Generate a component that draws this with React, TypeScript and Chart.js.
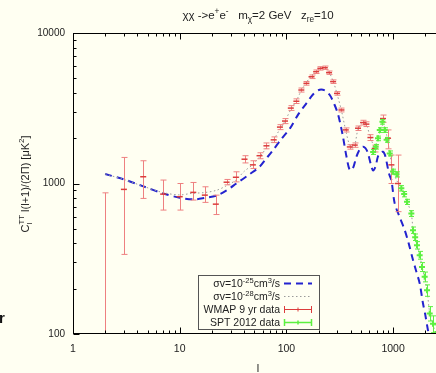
import React, { useEffect, useRef } from 'react';
import { Chart, registerables } from 'chart.js';

Chart.register(...registerables);

const FONT = '"Liberation Sans", Arial, Helvetica, sans-serif';
const BG = '#fffff2';
const BLUE = '#2323cf';
const GRAY = '#9a9a9a';
const RED = '#dc3c3c';
const RED_BAR = '#ee8080';
const GREEN = '#5cf040';

const xTickValues = [1, 10, 100, 1000];
const yTickValues = [100, 1000, 10000];

// sigma v = 1e-25 cm^3/s model (blue dashed)
const blueL = [2, 3, 4.5, 7, 10, 13.5, 17, 22, 27.5, 34, 45, 56, 65, 75, 90, 108, 130, 154, 180, 205, 230, 255, 282, 303, 320, 339, 366, 393, 420, 453, 485, 519, 550, 580, 626, 650, 685, 720, 760, 804, 835, 862, 920, 964, 1035, 1150, 1285, 1400, 1537, 1650, 1775, 1905, 2000, 2122, 2300, 2500];
const blueV = [1156, 1064, 961, 859, 804, 784, 800, 830, 900, 1000, 1150, 1291, 1470, 1668, 1980, 2325, 2900, 3410, 3950, 4200, 4150, 3870, 3350, 2924, 2500, 2046, 1506, 1227, 1260, 1506, 1680, 1754, 1720, 1600, 1295, 1220, 1300, 1506, 1600, 1625, 1560, 1432, 1150, 1054, 738, 600, 490, 400, 310, 260, 217, 160, 135, 106, 80, 60];

// sigma v = 1e-28 cm^3/s model (gray dotted)
const grayL = [2, 3, 4.5, 7, 10, 13, 17, 22, 27, 34, 40, 48, 56, 65, 76, 87, 97, 110, 124, 138, 154, 172, 190, 210, 228, 250, 274, 298, 328, 360, 393, 420, 440, 470, 520, 560, 610, 670, 720, 780, 820, 870, 930, 1000, 1080, 1200, 1350, 1480, 1540, 1680, 1780, 1870, 1980, 2080, 2200, 2370, 2500];
const grayV = [1156, 1064, 961, 870, 840, 860, 870, 900, 960, 1060, 1200, 1330, 1500, 1720, 1960, 2300, 2600, 3100, 3550, 4150, 4700, 5200, 5600, 5850, 5880, 5500, 4800, 3950, 3050, 2250, 1780, 1720, 1830, 2300, 2550, 2470, 2050, 1760, 1950, 2400, 2450, 2100, 1600, 1200, 1050, 920, 760, 630, 500, 390, 330, 280, 235, 195, 140, 115, 100];

// WMAP 9 yr binned data
const wmapL = [2, 3, 4.55, 7, 10, 13.4, 17.2, 21.8, 27.5, 33.6, 40.5, 48.5, 56, 65, 76, 87, 97, 110, 124, 138, 154, 172, 190, 208, 229, 251, 274, 298, 328, 360, 393, 437, 469, 523, 562, 613, 673, 804, 897, 964, 1112];
const wmapV = [150, 914, 1109, 850, 817, 873, 837, 729, 1020, 1100, 1450, 1330, 1530, 1780, 1950, 2370, 2600, 3170, 3520, 4180, 4630, 5120, 5530, 5820, 5880, 5450, 4750, 3970, 3080, 2270, 1750, 1800, 2330, 2540, 2480, 2020, 1710, 2700, 2000, 1330, 1000];
const wmapLo = [20, 338, 796, 666, 666, 776, 749, 622, 980, 1025, 1370, 1259, 1460, 1700, 1870, 2280, 2500, 3060, 3400, 4050, 4500, 4980, 5380, 5670, 5730, 5310, 4620, 3860, 2990, 2200, 1690, 1740, 2250, 2450, 2390, 1930, 1620, 2550, 1700, 1000, 650];
const wmapHi = [867, 1490, 1416, 1054, 1000, 1016, 951, 837, 1064, 1196, 1530, 1416, 1600, 1860, 2040, 2460, 2700, 3290, 3650, 4310, 4760, 5260, 5680, 5970, 6030, 5590, 4880, 4080, 3170, 2340, 1810, 1860, 2410, 2630, 2570, 2110, 1800, 2850, 2270, 1545, 1545];

// SPT 2012 data
const sptL = [650, 687, 722, 750, 795, 835, 870, 930, 998, 1077, 1195, 1270, 1350, 1483, 1537, 1610, 1675, 1775, 1866, 1977, 2080, 2203, 2366, 2500];
const sptV = [1620, 1754, 1995, 2265, 2570, 2265, 1950, 1585, 1200, 1150, 930, 850, 755, 632, 490, 440, 389, 334, 279, 240, 195, 137, 117, 100];
const sptErr = [60, 60, 70, 80, 90, 80, 70, 60, 45, 45, 38, 35, 30, 28, 24, 22, 22, 20, 19, 18, 17, 15, 15, 15];

type Seg = { t: string; s?: 'sup' | 'sub' | 'subsup'; t2?: string };

function drawRich(ctx: CanvasRenderingContext2D, segs: Seg[], x: number, y: number, size: number, align: 'left' | 'center' | 'right') {
  const small = size * 0.72;
  const widths = segs.map((seg) => {
    if (!seg.s) {
      ctx.font = `${size}px ${FONT}`;
      return ctx.measureText(seg.t).width;
    }
    ctx.font = `${small}px ${FONT}`;
    if (seg.s === 'subsup') return Math.max(ctx.measureText(seg.t).width, ctx.measureText(seg.t2 || '').width);
    return ctx.measureText(seg.t).width;
  });
  const total = widths.reduce((a, b) => a + b, 0);
  let cx = align === 'center' ? x - total / 2 : align === 'right' ? x - total : x;
  ctx.textAlign = 'left';
  ctx.textBaseline = 'alphabetic';
  segs.forEach((seg, i) => {
    if (!seg.s) {
      ctx.font = `${size}px ${FONT}`;
      ctx.fillText(seg.t, cx, y);
    } else {
      ctx.font = `${small}px ${FONT}`;
      if (seg.s === 'sup') ctx.fillText(seg.t, cx, y - size * 0.42);
      else if (seg.s === 'sub') ctx.fillText(seg.t, cx, y + size * 0.28);
      else {
        ctx.fillText(seg.t, cx, y + size * 0.28);
        ctx.fillText(seg.t2 || '', cx, y - size * 0.42);
      }
    }
    cx += widths[i];
  });
}

const errorBarPlugin = {
  id: 'errorBars',
  beforeDatasetDraw(chart: any, args: any) {
    const ds = chart.data.datasets[args.index];
    if (!ds.errLo) return;
    const { ctx, chartArea, scales } = chart;
    ctx.save();
    ctx.beginPath();
    ctx.rect(chartArea.left, chartArea.top, chartArea.right - chartArea.left, chartArea.bottom - chartArea.top);
    ctx.clip();
    ctx.strokeStyle = ds.errColor;
    ctx.lineWidth = 1;
    ds.data.forEach((p: any, i: number) => {
      const x = Math.round(scales.x.getPixelForValue(p.x)) + 0.5;
      const y1 = scales.y.getPixelForValue(ds.errLo[i]);
      const y2 = scales.y.getPixelForValue(ds.errHi[i]);
      const c = ds.capW;
      ctx.beginPath();
      ctx.moveTo(x, y1);
      ctx.lineTo(x, y2);
      ctx.moveTo(x - c, y1);
      ctx.lineTo(x + c, y1);
      ctx.moveTo(x - c, y2);
      ctx.lineTo(x + c, y2);
      ctx.stroke();
    });
    ctx.restore();
  },
};

function minorValues(min: number, max: number) {
  const out: { v: number; major: boolean }[] = [];
  for (let d = Math.pow(10, Math.floor(Math.log10(min))); d <= max; d *= 10) {
    for (let k = 1; k <= 9; k++) {
      const v = k * d;
      if (v >= min && v <= max) out.push({ v, major: k === 1 });
    }
  }
  return out;
}

const framePlugin = {
  id: 'frame',
  afterDatasetsDraw(chart: any) {
    const { ctx, chartArea: a, scales } = chart;
    ctx.save();
    ctx.strokeStyle = '#000';
    ctx.lineWidth = 1;
    const L = Math.round(a.left) + 0.5;
    const R = Math.round(a.right) - 0.5;
    const T = Math.round(a.top) + 0.5;
    const B = Math.round(a.bottom) - 0.5;
    ctx.strokeRect(L, T, R - L, B - T);
    ctx.beginPath();
    minorValues(scales.x.min, scales.x.max).forEach(({ v, major }) => {
      const x = Math.round(scales.x.getPixelForValue(v)) + 0.5;
      const len = major ? 6 : 3;
      ctx.moveTo(x, B);
      ctx.lineTo(x, B - len);
      ctx.moveTo(x, T);
      ctx.lineTo(x, T + len);
    });
    minorValues(scales.y.min, scales.y.max).forEach(({ v, major }) => {
      const y = Math.round(scales.y.getPixelForValue(v)) + 0.5;
      const len = major ? 6 : 3;
      ctx.moveTo(L, y);
      ctx.lineTo(L + len, y);
      ctx.moveTo(R, y);
      ctx.lineTo(R - len, y);
    });
    ctx.stroke();
    ctx.restore();
  },
};

const textPlugin = {
  id: 'texts',
  afterDraw(chart: any) {
    const { ctx } = chart;
    ctx.save();
    ctx.fillStyle = '#222';
    // title
    drawRich(ctx, [
      { t: 'χχ ->e' }, { t: '+', s: 'sup' }, { t: 'e' }, { t: '-', s: 'sup' },
      { t: '   m' }, { t: 'χ', s: 'sub' }, { t: '=2 GeV   z' }, { t: 're', s: 'sub' }, { t: '=10' },
    ], 258, 19, 11.5, 'center');
    // x-axis title
    ctx.font = `11px ${FONT}`;
    ctx.textAlign = 'center';
    ctx.textBaseline = 'alphabetic';
    ctx.fillText('l', 258, 372);
    // y-axis title
    ctx.save();
    ctx.translate(29, 184);
    ctx.rotate(-Math.PI / 2);
    drawRich(ctx, [
      { t: 'C' }, { t: 'l', s: 'subsup', t2: 'TT' }, { t: ' l(l+1)/(2Π) [μK' }, { t: '2', s: 'sup' }, { t: ']' },
    ], 0, 0, 11, 'center');
    ctx.restore();
    // stray letter at left edge
    ctx.fillStyle = '#111';
    ctx.font = `bold 15px ${FONT}`;
    ctx.textAlign = 'left';
    ctx.fillText('r', -1, 323);

    // legend
    const bx = 198.5, by = 275.5, bw = 121, bh = 54;
    ctx.fillStyle = BG;
    ctx.fillRect(bx, by, bw, bh);
    ctx.strokeStyle = '#555';
    ctx.lineWidth = 1;
    ctx.strokeRect(bx, by, bw, bh);
    ctx.fillStyle = '#222';
    const tx = 280;
    const rows = [283, 296, 309, 322];
    drawRich(ctx, [{ t: 'σv=10' }, { t: '-25', s: 'sup' }, { t: 'cm' }, { t: '3', s: 'sup' }, { t: '/s' }], tx, rows[0] + 4, 10.5, 'right');
    drawRich(ctx, [{ t: 'σv=10' }, { t: '-28', s: 'sup' }, { t: 'cm' }, { t: '3', s: 'sup' }, { t: '/s' }], tx, rows[1] + 4, 10.5, 'right');
    drawRich(ctx, [{ t: 'WMAP 9 yr data' }], tx, rows[2] + 4, 10.5, 'right');
    drawRich(ctx, [{ t: 'SPT 2012 data' }], tx, rows[3] + 4, 10.5, 'right');
    const sx0 = 284, sx1 = 312;
    ctx.lineWidth = 2;
    ctx.strokeStyle = BLUE;
    ctx.setLineDash([7, 5]);
    ctx.beginPath();
    ctx.moveTo(sx0, rows[0] + 0.5);
    ctx.lineTo(sx1, rows[0] + 0.5);
    ctx.stroke();
    ctx.lineWidth = 1;
    ctx.strokeStyle = GRAY;
    ctx.setLineDash([1.5, 2.5]);
    ctx.beginPath();
    ctx.moveTo(sx0, rows[1] + 0.5);
    ctx.lineTo(sx1, rows[1] + 0.5);
    ctx.stroke();
    ctx.setLineDash([]);
    const errSample = (y: number, col: string, w: number) => {
      ctx.strokeStyle = col;
      ctx.lineWidth = w;
      ctx.beginPath();
      ctx.moveTo(sx0, y + 0.5);
      ctx.lineTo(sx1, y + 0.5);
      ctx.moveTo(sx0 + 0.5, y - 3);
      ctx.lineTo(sx0 + 0.5, y + 4);
      ctx.moveTo(sx1 - 0.5, y - 3);
      ctx.lineTo(sx1 - 0.5, y + 4);
      ctx.moveTo((sx0 + sx1) / 2, y - 1.5);
      ctx.lineTo((sx0 + sx1) / 2, y + 2.5);
      ctx.stroke();
    };
    errSample(rows[2], RED, 1);
    errSample(rows[3], GREEN, 1.5);
    ctx.restore();
  },
};

export default function App() {
  const ref = useRef<HTMLCanvasElement>(null);
  useEffect(() => {
    const toXY = (xs: number[], ys: number[]) => xs.map((x, i) => ({ x, y: ys[i] }));
    const chart = new Chart(ref.current as HTMLCanvasElement, {
      type: 'scatter',
      data: {
        datasets: [
          {
            label: 'SPT 2012 data',
            data: toXY(sptL, sptV),
            showLine: false,
            pointStyle: 'cross',
            pointRadius: 3,
            borderWidth: 2,
            borderColor: GREEN,
            backgroundColor: GREEN,
            order: 0,
            errLo: sptV.map((v, i) => v - sptErr[i]),
            errHi: sptV.map((v, i) => v + sptErr[i]),
            errColor: GREEN,
            capW: 2.5,
          } as any,
          {
            label: 'WMAP 9 yr data',
            data: toXY(wmapL, wmapV),
            showLine: false,
            pointStyle: 'line',
            pointRadius: wmapL.map((l) => (l < 2.5 ? 0 : 3)),
            borderWidth: 1.5,
            borderColor: RED,
            backgroundColor: RED,
            order: 1,
            errLo: wmapLo,
            errHi: wmapHi,
            errColor: RED_BAR,
            capW: 3,
          } as any,
          {
            label: 'sv=1e-28',
            data: toXY(grayL, grayV),
            showLine: true,
            pointRadius: 0,
            borderColor: GRAY,
            borderWidth: 1,
            borderDash: [1.5, 2.5],
            tension: 0.3,
            order: 2,
          },
          {
            label: 'sv=1e-25',
            data: toXY(blueL, blueV),
            showLine: true,
            pointRadius: 0,
            borderColor: BLUE,
            borderWidth: 2,
            borderDash: [7, 5],
            tension: 0.3,
            order: 3,
          },
        ],
      },
      options: {
        animation: false,
        responsive: false,
        devicePixelRatio: 1,
        layout: { padding: { top: 33, right: 6, left: 0, bottom: 0 } },
        plugins: { legend: { display: false }, title: { display: false }, tooltip: { enabled: false } },
        scales: {
          x: {
            type: 'logarithmic',
            min: 1,
            max: 3000,
            grid: { display: false, drawTicks: false },
            border: { display: false },
            afterBuildTicks: (s: any) => {
              s.ticks = xTickValues.map((v) => ({ value: v }));
            },
            afterFit: (s: any) => {
              s.height = 39;
            },
            ticks: {
              autoSkip: false,
              maxRotation: 0,
              padding: 9,
              color: '#222',
              font: { family: FONT, size: 10.5 },
              callback: (v: any) => String(v),
            },
          },
          y: {
            type: 'logarithmic',
            min: 100,
            max: 10000,
            grid: { display: false, drawTicks: false },
            border: { display: false },
            afterBuildTicks: (s: any) => {
              s.ticks = yTickValues.map((v) => ({ value: v }));
            },
            afterFit: (s: any) => {
              s.width = 73;
            },
            ticks: {
              autoSkip: false,
              padding: 8,
              color: '#222',
              font: { family: FONT, size: 10 },
              callback: (v: any) => String(v),
            },
          },
        },
      },
      plugins: [errorBarPlugin, framePlugin, textPlugin],
    } as any);
    return () => chart.destroy();
  }, []);
  return (
    <div style={{ position: 'fixed', left: 0, top: 0, width: 436, height: 373, overflow: 'hidden', background: BG }}>
      <canvas ref={ref} width={450} height={373} style={{ display: 'block', width: 450, height: 373 }} />
    </div>
  );
}
